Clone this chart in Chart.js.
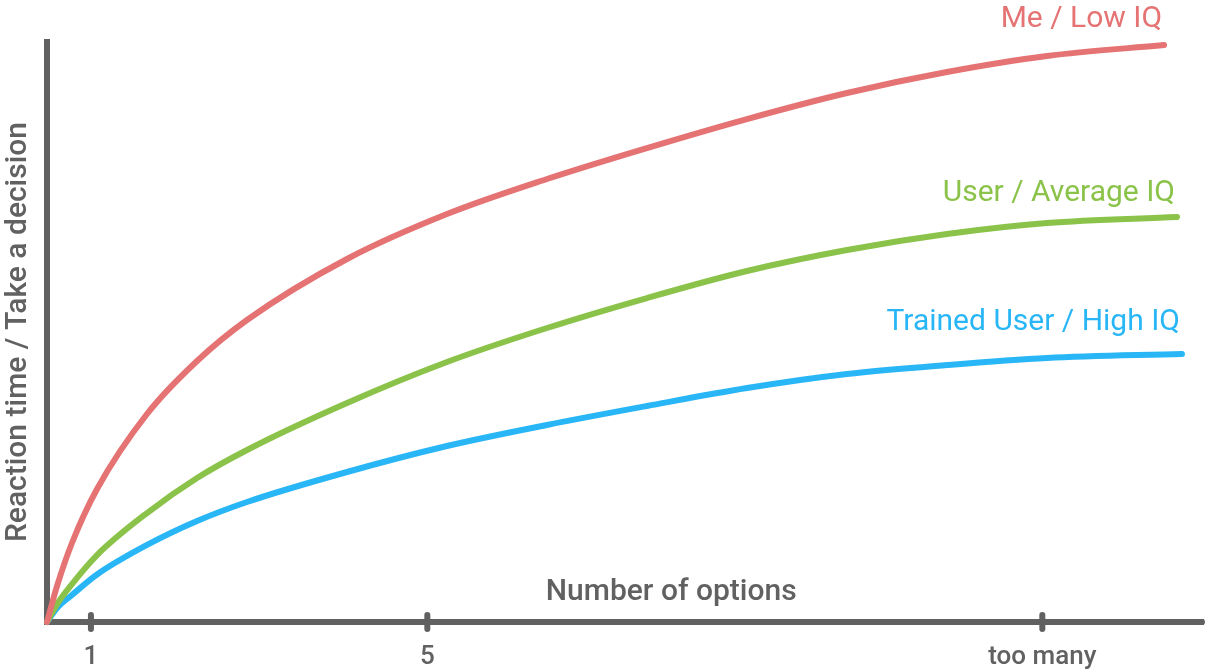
<!DOCTYPE html>
<html>
<head>
<meta charset="utf-8">
<script src="https://cdn.jsdelivr.net/npm/chart.js@4.4.1/dist/chart.umd.min.js"></script>
<style>
  html, body { margin: 0; padding: 0; background: #fff; }
</style>
</head>
<body>
<canvas id="chart" width="1215" height="672"></canvas>
<script>
// values (x: 0..100 along the axis, y: 0..100 up the axis)
const seriesLabels = ['Me / Low IQ', 'User / Average IQ', 'Trained User / High IQ'];

const gridX = [0, 0.87, 2.16, 4.33, 8.65, 12.98, 17.30, 25.95, 34.60, 43.25, 51.90, 60.55, 69.20, 77.85, 86.51];

const lowX  = [...gridX, 96.63];
const lowY  = [0, 6.21, 13.62, 22.93, 35.86, 45.00, 52.07, 62.59, 70.34, 76.38, 81.72, 86.72, 91.21, 94.83, 97.59, 99.48];

const avgX  = [...gridX, 97.75];
const avgY  = [0, 3.10, 6.55, 11.55, 18.79, 24.83, 29.66, 37.76, 44.83, 50.69, 55.86, 60.52, 64.14, 66.90, 68.79, 69.83];

const highX = [...gridX, 98.18];
const highY = [0, 2.41, 4.66, 8.19, 13.28, 17.41, 20.69, 25.86, 30.34, 33.97, 37.24, 40.34, 42.76, 44.31, 45.52, 46.21];

const tickValues = [3.8, 32.9, 86.1];
const tickLabels = ['1', '5', 'too many'];

const xTitle = 'Number of options';
const yTitle = 'Reaction time / Take a decision';

const colors = ['#e57373', '#8bc34a', '#29b6f6'];
const labelLift = [18, 16, 24];
const axisColor = '#616161';
const textColor = '#616161';

const toPoints = (xs, ys) => xs.map((x, i) => ({ x: x, y: ys[i] }));

// tick marks across the axis, axis title and the end-of-line labels
const extras = {
  id: 'extras',
  afterDatasetsDraw(chart) {
    const ctx = chart.ctx;
    const xs = chart.scales.x;
    const area = chart.chartArea;
    ctx.save();
    ctx.strokeStyle = axisColor;
    ctx.lineWidth = 6;
    ctx.lineCap = 'round';
    xs.ticks.forEach(t => {
      const px = xs.getPixelForValue(t.value);
      ctx.beginPath();
      ctx.moveTo(px, area.bottom - 7);
      ctx.lineTo(px, area.bottom + 7);
      ctx.stroke();
    });
    // rounded ends of the two axes
    ctx.beginPath();
    ctx.moveTo(area.left, area.top + 1);
    ctx.lineTo(area.left, area.top + 2);
    ctx.moveTo(area.right - 2, area.bottom);
    ctx.lineTo(area.right - 1, area.bottom);
    ctx.stroke();

    ctx.fillStyle = textColor;
    ctx.font = '500 30px Roboto';
    ctx.textAlign = 'center';
    ctx.textBaseline = 'alphabetic';
    ctx.fillText(xTitle, xs.getPixelForValue(54), area.bottom - 22);

    ctx.font = '30px Roboto';
    ctx.textAlign = 'right';
    chart.data.datasets.forEach((ds, i) => {
      const pts = chart.getDatasetMeta(i).data;
      const last = pts[pts.length - 1];
      ctx.fillStyle = ds.borderColor;
      ctx.fillText(ds.label, last.x - 2, last.y - labelLift[i]);
    });
    ctx.restore();
  }
};

const lineStyle = (i) => ({
  label: seriesLabels[i],
  borderColor: colors[i],
  borderWidth: 6,
  borderCapStyle: 'round',
  pointRadius: 0,
  cubicInterpolationMode: 'monotone',
  clip: false,
  fill: false
});

new Chart(document.getElementById('chart'), {
  type: 'line',
  data: {
    datasets: [
      { ...lineStyle(0), data: toPoints(lowX, lowY) },
      { ...lineStyle(1), data: toPoints(avgX, avgY) },
      { ...lineStyle(2), data: toPoints(highX, highY) }
    ]
  },
  options: {
    responsive: false,
    animation: false,
    layout: { padding: { top: 42, right: 12, left: 0, bottom: 0 } },
    plugins: { legend: { display: false }, tooltip: { enabled: false } },
    scales: {
      x: {
        type: 'linear',
        min: 0,
        max: 100,
        afterFit: (s) => { s.height = 50; },
        afterBuildTicks: (s) => { s.ticks = tickValues.map(v => ({ value: v })); },
        grid: { display: false, drawTicks: false },
        border: { display: true, color: axisColor, width: 6 },
        ticks: {
          autoSkip: false,
          maxRotation: 0,
          padding: 20,
          color: textColor,
          font: { family: 'Roboto', size: 26, weight: '500' },
          callback: (v, i) => tickLabels[i]
        }
      },
      y: {
        min: 0,
        max: 100,
        afterFit: (s) => { s.width = 47; },
        grid: { display: false, drawTicks: false },
        border: { display: true, color: axisColor, width: 6 },
        ticks: { display: false },
        title: {
          display: true,
          text: yTitle,
          color: textColor,
          padding: 0,
          font: { family: 'Roboto', size: 30, weight: '500' }
        }
      }
    }
  },
  plugins: [extras]
});
</script>
</body>
</html>
